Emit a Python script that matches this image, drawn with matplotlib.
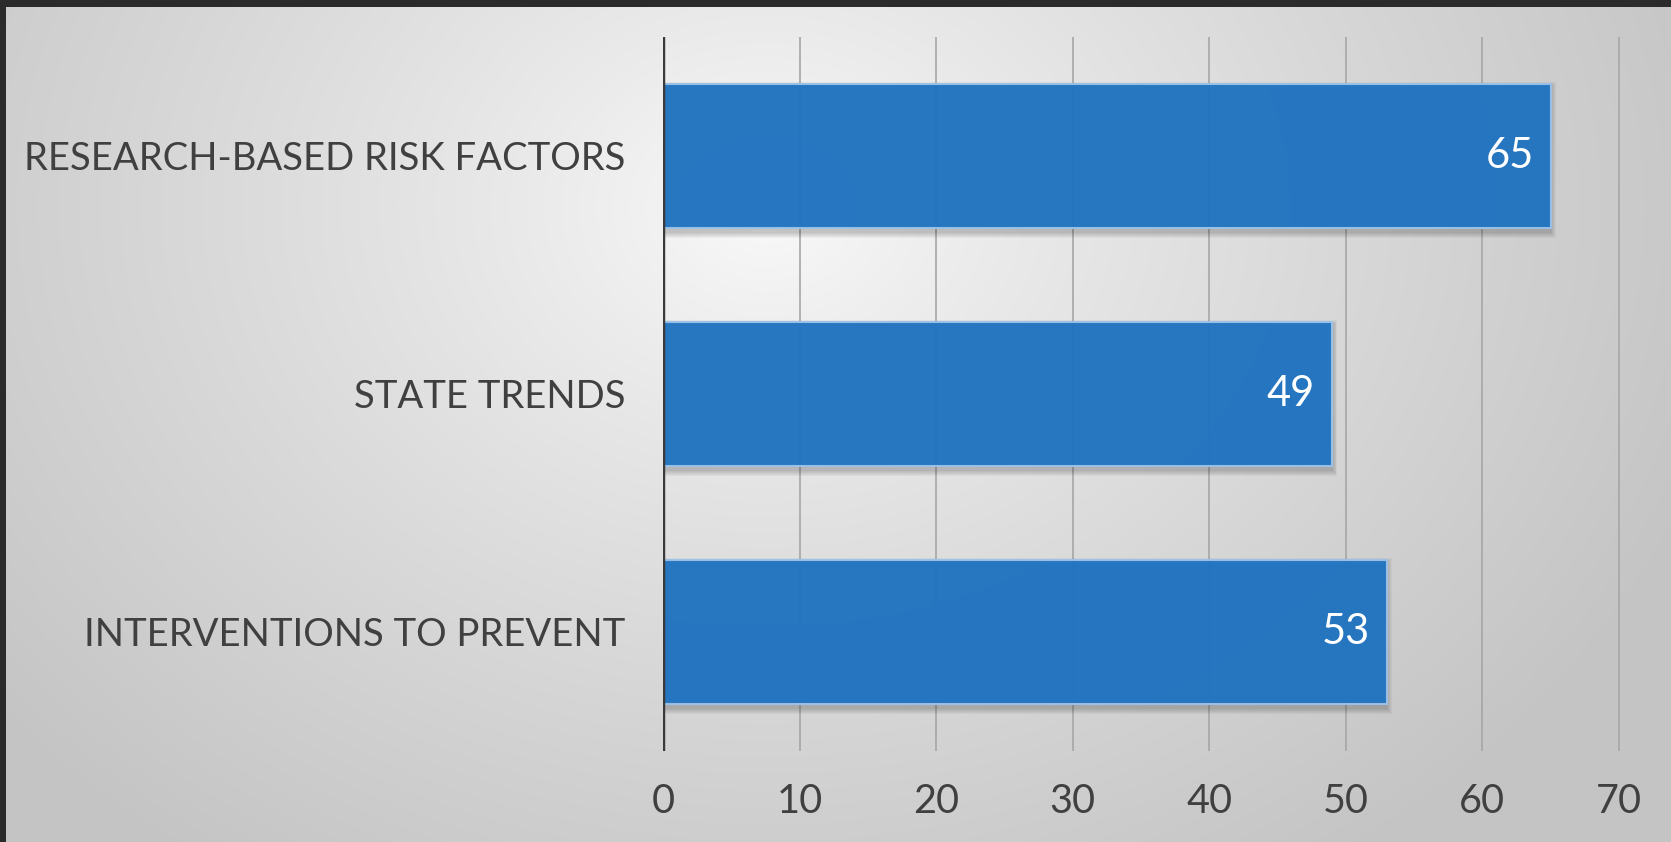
import numpy as np
import matplotlib
matplotlib.use('Agg')
import matplotlib.pyplot as plt

# 数据
categories = ['RESEARCH-BASED RISK FACTORS', 'STATE TRENDS', 'INTERVENTIONS TO PREVENT']
values = [65, 49, 53]
x_ticks = [0, 10, 20, 30, 40, 50, 60, 70]

W, H = 1671, 842
plt.rcParams['font.family'] = ['Lato', 'DejaVu Sans']

fig = plt.figure(figsize=(W / 100, H / 100), dpi=100)
fig.patch.set_facecolor('#2b2b2b')

# 背景渐变（径向，中心偏上）
bg = fig.add_axes([6 / W, 0, (W - 6) / W, (H - 7) / H])
bg.set_axis_off()
yy, xx = np.mgrid[0:H - 7, 0:W - 6]
cx, cy = 760.0, 200.0
r = np.sqrt(((xx - cx) / 1.25) ** 2 + (yy - cy) ** 2)
r = np.clip(r / 800.0, 0, 1)
shade = 0.98 - 0.21 * r ** 0.85
img = np.dstack([shade, shade, shade])
bg.imshow(img, aspect='auto', interpolation='bilinear')

# 主坐标轴
x0, x70 = 663, 1619
px_per_unit = (x70 - x0) / 70.0
right_px = 1640
ax = fig.add_axes([x0 / W, (H - 751) / H, (right_px - x0) / W, 714 / H])
ax.patch.set_alpha(0)
ax.set_xlim(0, (right_px - x0) / px_per_unit)
ax.set_ylim(2.5, -0.5)

# 网格线
for t in x_ticks[1:]:
    ax.axvline(t, color='#a6a6a6', lw=1.2, zorder=1)

y_pos = np.arange(len(categories))
bar_h = 0.605

# 阴影（多层叠加模拟模糊）
dx = 4 / px_per_unit
dy = 4 / 238.0
for k in range(6):
    g = k + 1
    ax.barh(y_pos + dy, [v + dx * g / 3 for v in values], height=bar_h + g * 2 / 238.0,
            left=-g * 0.5 / px_per_unit, color='#000000', alpha=0.035, lw=0, zorder=2)

bars = ax.barh(y_pos, values, height=bar_h, color='#2274c1', edgecolor='#9cc2e8',
               lw=1.5, alpha=0.97, zorder=3)

# 数值标签
for i, v in enumerate(values):
    ax.text(v - 17 / px_per_unit, i, str(v), color='white', fontsize=30,
            ha='right', va='center', zorder=4)

# 纵轴线
ax.axvline(0, color='#3a3a3a', lw=3.2, zorder=5)

for s in ax.spines.values():
    s.set_visible(False)

ax.set_yticks(y_pos)
ax.set_yticklabels(categories, fontsize=27.5, color='#404040')
ax.set_xticks(x_ticks)
ax.set_xticklabels([str(t) for t in x_ticks], fontsize=28.5, color='#404040')
ax.tick_params(axis='y', length=0, pad=27)
ax.tick_params(axis='x', length=0, pad=23)

plt.savefig('out.png', dpi=100, facecolor=fig.get_facecolor())
plt.close()
